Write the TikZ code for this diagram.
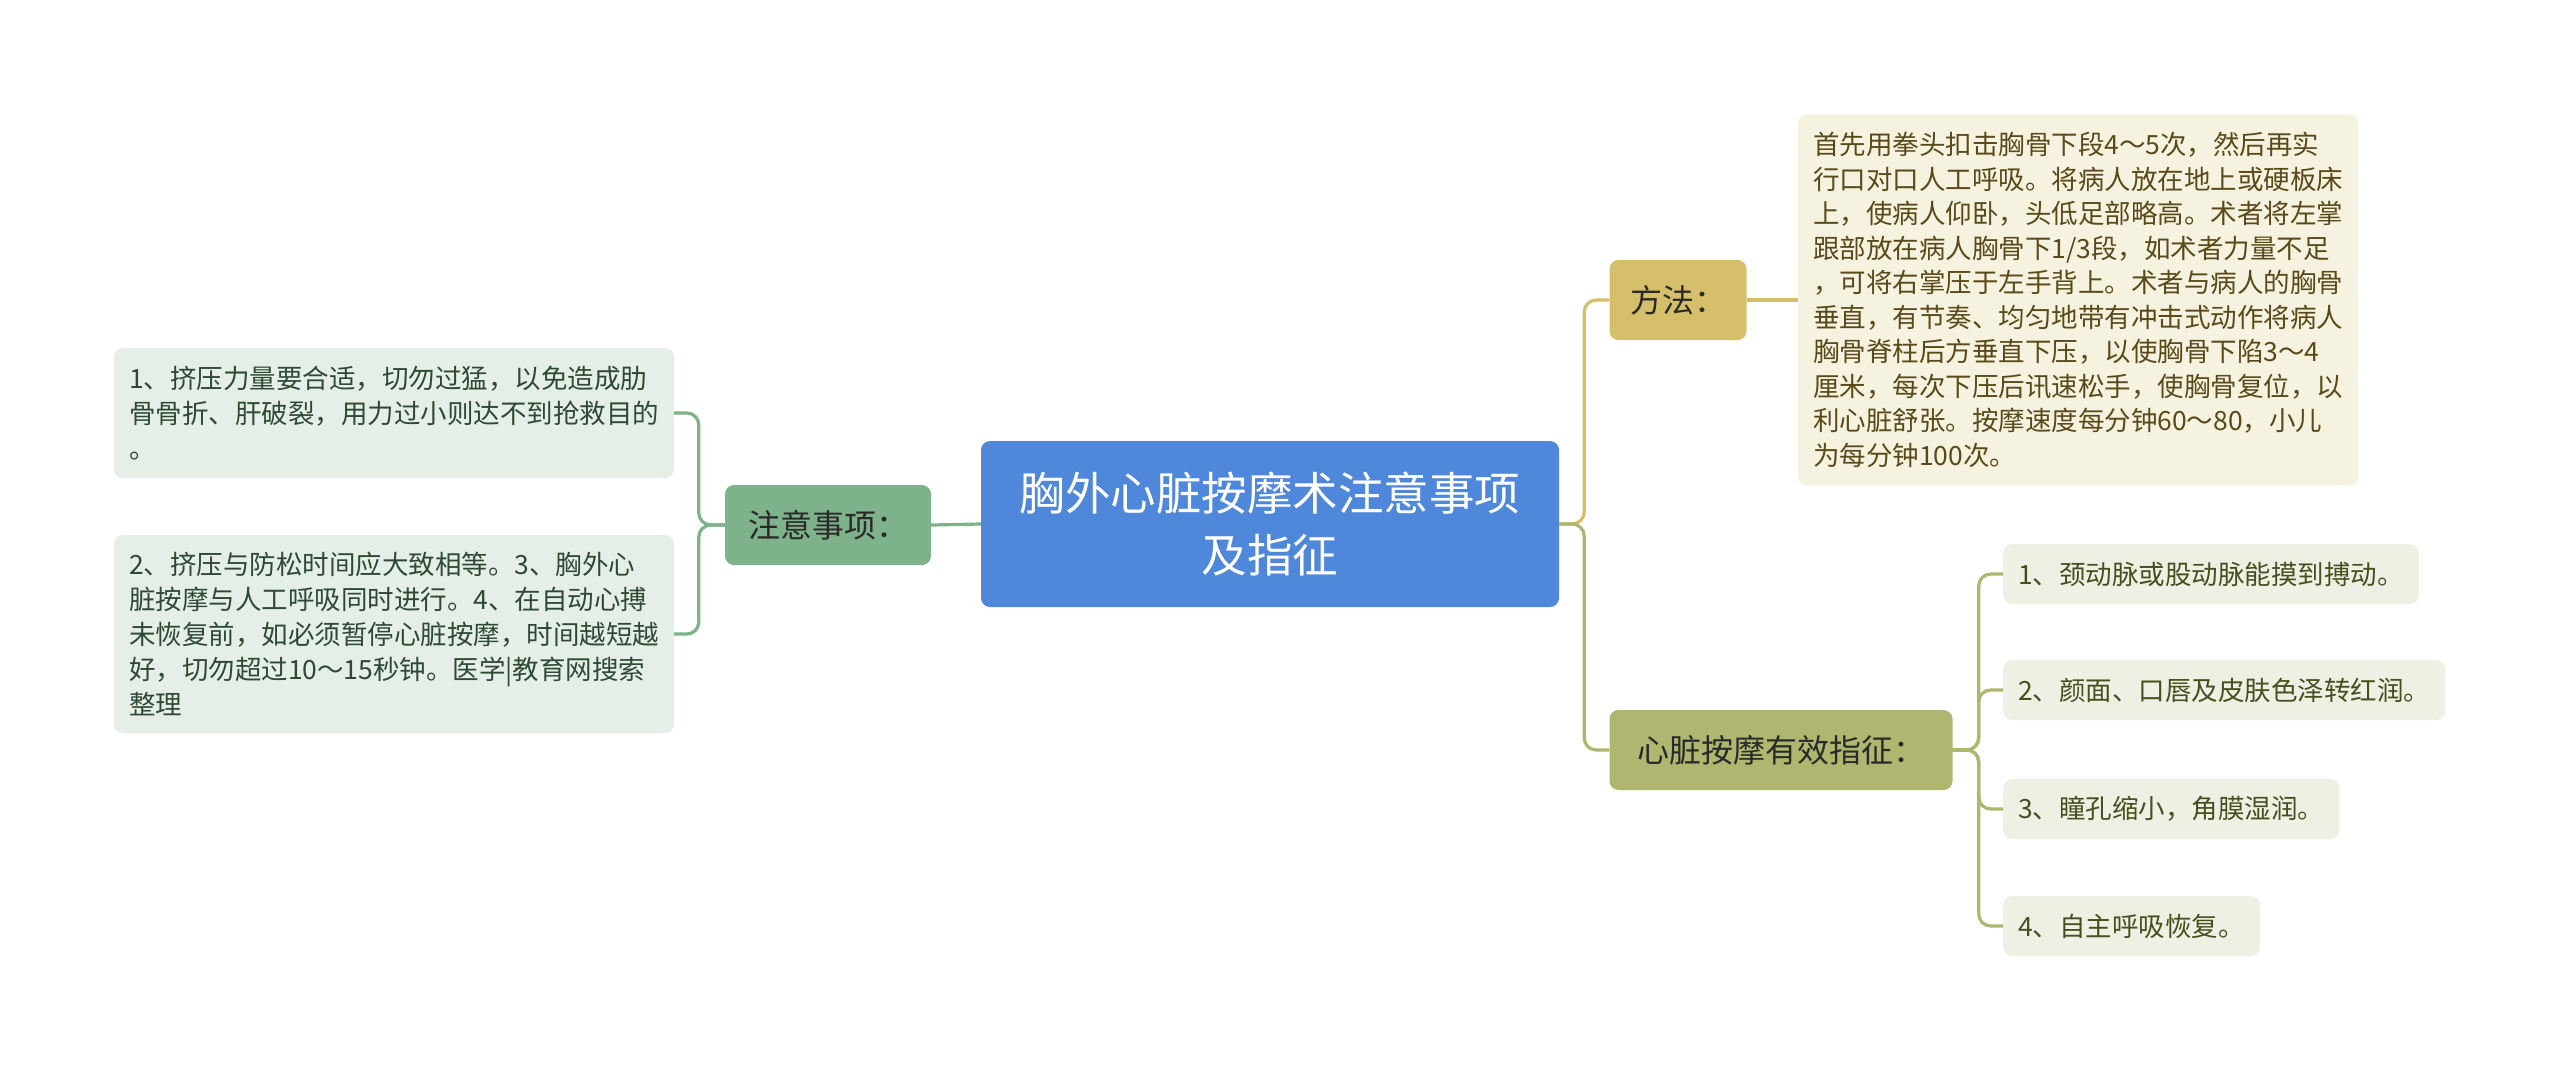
\documentclass[tikz,border=0pt]{standalone}
\usepackage{fontspec}
\setmainfont{Noto Sans CJK SC}
\definecolor{rootblue}{HTML}{4F87DA}
\definecolor{gr}{HTML}{7DB28A}
\definecolor{grleaf}{HTML}{E5EFE8}
\definecolor{grtext}{HTML}{2E4A34}
\definecolor{gold}{HTML}{D5BF6B}
\definecolor{goldleaf}{HTML}{F5F2E0}
\definecolor{goldtext}{HTML}{5A4A1A}
\definecolor{olive}{HTML}{AFB66F}
\definecolor{oliveleaf}{HTML}{EFF0E3}
\definecolor{olivetext}{HTML}{494E1E}
\definecolor{branchtext}{HTML}{2A2A2A}
\tikzset{
  boxbase/.style={rounded corners=9pt, inner ysep=0pt, anchor=center},
  rootbox/.style={boxbase, fill=rootblue, text=white, align=center, inner xsep=0pt,
    font=\fontsize{45.5}{62}\selectfont},
  branchbox/.style={boxbase, text=branchtext, align=left, inner xsep=16pt,
    font=\fontsize{32}{40}\selectfont},
  leafbox/.style={boxbase, align=left, inner xsep=15pt,
    font=\fontsize{26.5}{35}\selectfont},
  link/.style={line width=3.2pt, rounded corners=12pt},
}
\begin{document}
\begin{tikzpicture}[x=1pt,y=-1pt]
\fill[white] (0,0) rectangle (2560,1072);
\useasboundingbox (0,0) rectangle (2560,1072);

% root
\node[rootbox, minimum width=578pt, minimum height=166pt] (root) at (1270,524)
  {胸外心脏按摩术注意事项\\及指征};

% left branch
\node[branchbox, fill=gr, minimum width=206pt, minimum height=80pt] (zy) at (828,525)
  {注意事项：};
\node[leafbox, fill=grleaf, text=grtext, text width=530pt, minimum height=130pt] (l1) at (394,413)
  {1、挤压力量要合适，切勿过猛，以免造成肋\\骨骨折、肝破裂，用力过小则达不到抢救目的\\。};
\node[leafbox, fill=grleaf, text=grtext, text width=530pt, minimum height=198pt] (l2) at (394,634)
  {2、挤压与防松时间应大致相等。3、胸外心\\脏按摩与人工呼吸同时进行。4、在自动心搏\\未恢复前，如必须暂停心脏按摩，时间越短越\\好，切勿超过10～15秒钟。医学|教育网搜索\\整理};

% right upper branch
\node[branchbox, fill=gold, minimum width=137pt, minimum height=80pt] (ff) at (1678,300)
  {方法：};
\node[leafbox, fill=goldleaf, text=goldtext, text width=530pt, minimum height=371pt, font=\fontsize{26.5}{34.5}\selectfont] (mt) at (2078,300)
  {首先用拳头扣击胸骨下段4～5次，然后再实\\行口对口人工呼吸。将病人放在地上或硬板床\\上，使病人仰卧，头低足部略高。术者将左掌\\跟部放在病人胸骨下1/3段，如术者力量不足\\，可将右掌压于左手背上。术者与病人的胸骨\\垂直，有节奏、均匀地带有冲击式动作将病人\\胸骨脊柱后方垂直下压，以使胸骨下陷3～4\\厘米，每次下压后讯速松手，使胸骨复位，以\\利心脏舒张。按摩速度每分钟60～80，小儿\\为每分钟100次。};

% right lower branch
\node[branchbox, fill=olive, minimum width=343pt, minimum height=80pt] (zz) at (1781,750)
  {心脏按摩有效指征：};
\node[leafbox, fill=oliveleaf, text=olivetext, anchor=west, minimum width=415pt, minimum height=60pt] (s1) at (2003,574)
  {1、颈动脉或股动脉能摸到搏动。};
\node[leafbox, fill=oliveleaf, text=olivetext, anchor=west, minimum width=441pt, minimum height=60pt] (s2) at (2003,690)
  {2、颜面、口唇及皮肤色泽转红润。};
\node[leafbox, fill=oliveleaf, text=olivetext, anchor=west, minimum width=335pt, minimum height=60pt] (s3) at (2003,809)
  {3、瞳孔缩小，角膜湿润。};
\node[leafbox, fill=oliveleaf, text=olivetext, anchor=west, minimum width=253pt, minimum height=60pt] (s4) at (2003,926)
  {4、自主呼吸恢复。};

% connectors
\draw[link, gr] (root.west) -- (zy.east);
\draw[link, gr] (zy.west) -- ++(-26,0) |- (l1.east);
\draw[link, gr] (zy.west) -- ++(-26,0) |- (l2.east);

\draw[link, gold] (root.east) -- ++(25,0) |- (ff.west);
\draw[link, olive] (root.east) -- ++(25,0) |- (zz.west);
\draw[link, gold] (ff.east) -- (mt.west |- ff.east);

\draw[link, olive] (zz.east) -- ++(26,0) |- (s1.west);
\draw[link, olive] (zz.east) -- ++(26,0) |- (s2.west);
\draw[link, olive] (zz.east) -- ++(26,0) |- (s3.west);
\draw[link, olive] (zz.east) -- ++(26,0) |- (s4.west);
\end{tikzpicture}
\end{document}
